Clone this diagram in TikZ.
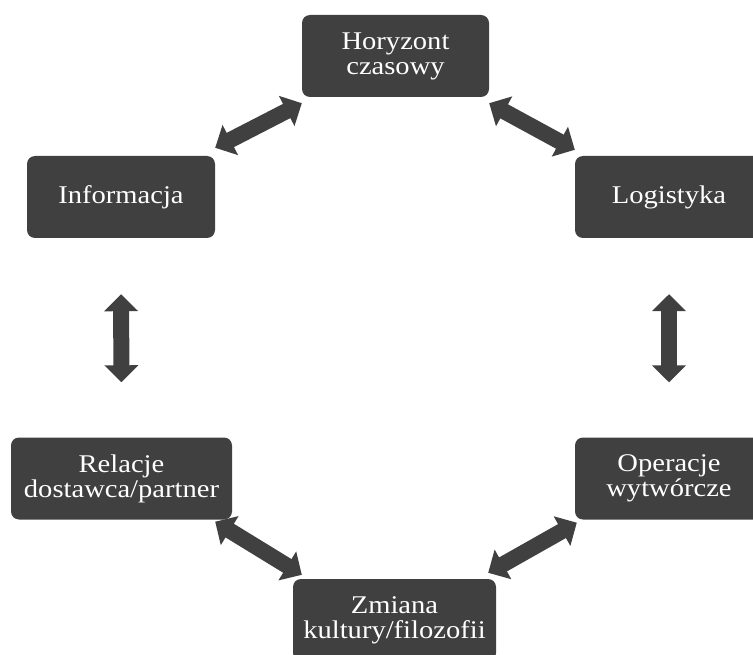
\documentclass[tikz,border=0pt]{standalone}
\usepackage{fontspec}
\setmainfont{Liberation Serif}[FakeStretch=1.12]
\usetikzlibrary{arrows.meta}
\definecolor{boxgray}{HTML}{404040}
\begin{document}
\begin{tikzpicture}[x=1pt,y=-1pt,
 box/.style={fill=boxgray, rounded corners=8pt, text=white, align=center,
   font=\fontsize{25.5}{25}\selectfont, inner sep=0pt, minimum height=82pt},
 dbl/.style={draw=boxgray, line width=16pt,
   {Triangle[width=33pt,length=17pt]}-{Triangle[width=33pt,length=17pt]}}]
\useasboundingbox (0,0) rectangle (753,655);
\node[box, minimum width=187pt] (hor) at (395.5,56) {Horyzont\\czasowy};
\node[box, minimum width=188pt] (info) at (121,197) {Informacja};
\node[box, minimum width=188pt] (log) at (669,197) {Logistyka};
\node[box, minimum width=221pt] (rel) at (121.5,478.5) {Relacje\\dostawca/partner};
\node[box, minimum width=188pt] (op) at (669,478.5) {Operacje\\wytwórcze};
\node[box, minimum width=203pt] (zm) at (394.5,620) {Zmiana\\kultury/filozofii};
\draw[dbl] ([yshift=-6pt]hor.south west) -- ([yshift=8pt]info.north east);
\draw[dbl] ([yshift=-6pt]hor.south east) -- ([yshift=6pt]log.north west);
\draw[dbl] ([yshift=-56pt]info.south) -- ([yshift=55pt]rel.north);
\draw[dbl] ([yshift=-56pt]log.south) -- ([yshift=55pt]op.north);
\draw[dbl] ([xshift=-17pt,yshift=-2pt]rel.south east) -- ([xshift=9pt,yshift=4pt]zm.north west);
\draw[dbl] ([xshift=2pt,yshift=-3pt]op.south west) -- ([xshift=-8pt,yshift=6pt]zm.north east);
\end{tikzpicture}
\end{document}
